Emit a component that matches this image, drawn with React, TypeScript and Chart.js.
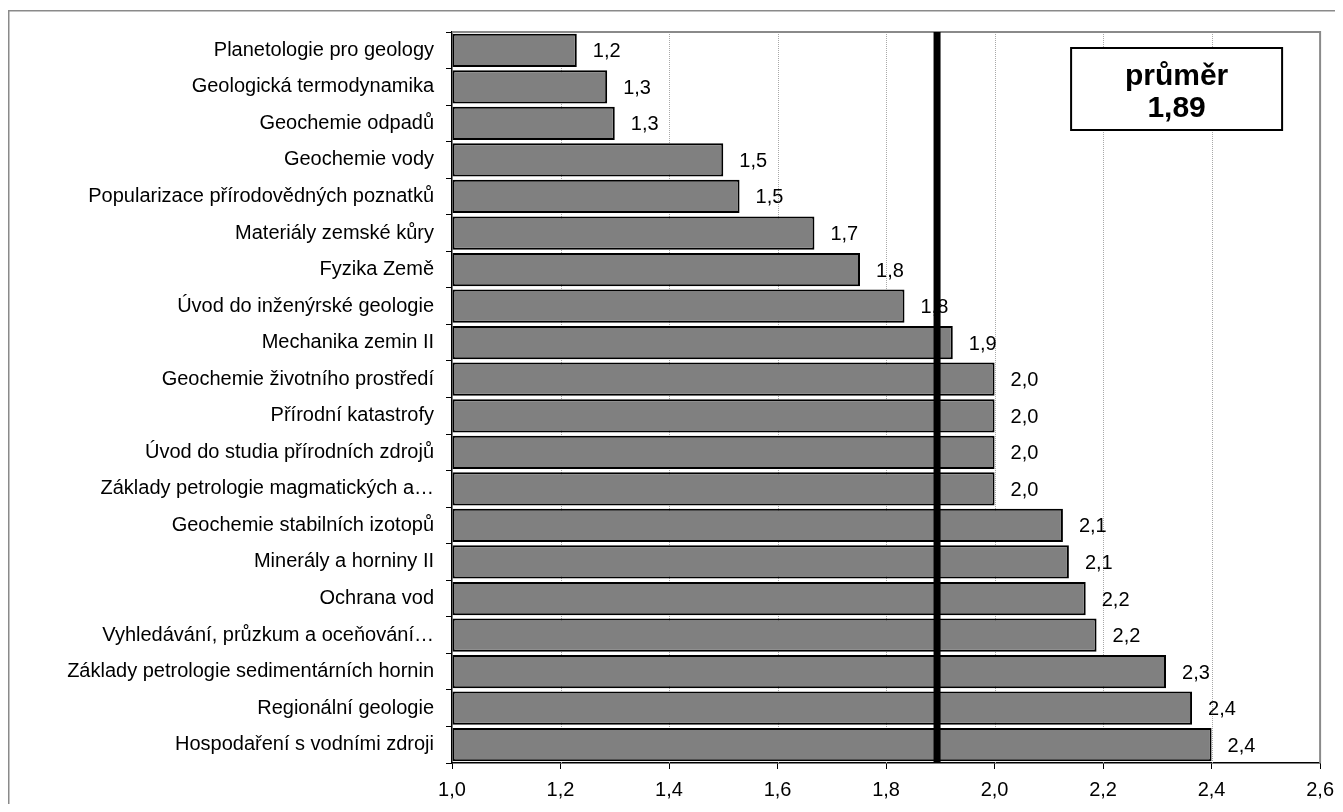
import React, { useEffect, useRef } from "react";
import { Chart, registerables } from "chart.js";

Chart.register(...registerables);

const categories: string[] = [
  "Planetologie pro geology",
  "Geologická termodynamika",
  "Geochemie odpadů",
  "Geochemie vody",
  "Popularizace přírodovědných poznatků",
  "Materiály zemské kůry",
  "Fyzika Země",
  "Úvod do inženýrské geologie",
  "Mechanika zemin II",
  "Geochemie životního prostředí",
  "Přírodní katastrofy",
  "Úvod do studia přírodních zdrojů",
  "Základy petrologie magmatických a…",
  "Geochemie stabilních izotopů",
  "Minerály a horniny II",
  "Ochrana vod",
  "Vyhledávání, průzkum a oceňování…",
  "Základy petrologie sedimentárních hornin",
  "Regionální geologie",
  "Hospodaření s vodními zdroji",
];

const values: number[] = [
  1.23, 1.286, 1.3, 1.5, 1.53, 1.668, 1.752, 1.834, 1.923, 2.0, 2.0, 2.0, 2.0,
  2.126, 2.137, 2.168, 2.188, 2.316, 2.364, 2.4,
];

const MEAN = 1.894;
const meanTitle = "průměr";
const meanLabel = "1,89";

const X_MIN = 1.0;
const X_MAX = 2.6;
const X_STEP = 0.2;

const FONT = "'Liberation Sans', Arial, sans-serif";
const fmt = (v: number) => v.toFixed(1).replace(".", ",");

const W = 1335;
const H = 796;

export default function App() {
  const ref = useRef<HTMLCanvasElement | null>(null);

  useEffect(() => {
    document.body.style.overflow = "hidden";
    const canvas = ref.current;
    if (!canvas) return;

    const decorPlugin = {
      id: "decor",
      beforeDraw(chart: any) {
        const ctx = chart.ctx;
        ctx.save();
        ctx.fillStyle = "#ffffff";
        ctx.fillRect(0, 0, chart.width, chart.height);
        // outer frame
        ctx.fillStyle = "#8a8a8a";
        ctx.fillRect(0, 2, chart.width, 1.5);
        ctx.fillRect(0, 2, 1.5, chart.height);
        ctx.restore();
      },
      beforeDatasetsDraw(chart: any) {
        const ctx = chart.ctx;
        const area = chart.chartArea;
        const xs = chart.scales.x;
        ctx.save();
        ctx.strokeStyle = "#a8a8a8";
        ctx.lineWidth = 1;
        ctx.setLineDash([1, 1]);
        for (let v = X_MIN + X_STEP; v < X_MAX - 1e-6; v += X_STEP) {
          const px = Math.round(xs.getPixelForValue(v)) + 0.5;
          ctx.beginPath();
          ctx.moveTo(px, area.top);
          ctx.lineTo(px, area.bottom);
          ctx.stroke();
        }
        ctx.setLineDash([]);
        ctx.strokeStyle = "#8a8a8a";
        ctx.lineWidth = 2;
        ctx.beginPath();
        ctx.moveTo(area.left, area.top);
        ctx.lineTo(area.right, area.top);
        ctx.lineTo(area.right, area.bottom);
        ctx.stroke();
        ctx.restore();
      },
      afterDatasetsDraw(chart: any) {
        const ctx = chart.ctx;
        const area = chart.chartArea;
        const xs = chart.scales.x;
        const meta = chart.getDatasetMeta(0);
        ctx.save();
        // value labels
        ctx.fillStyle = "#000";
        ctx.font = `20px ${FONT}`;
        ctx.textAlign = "left";
        ctx.textBaseline = "middle";
        meta.data.forEach((bar: any, i: number) => {
          ctx.fillText(fmt(values[i]), bar.x + 16, bar.y + 1.5);
        });
        // mean line
        const mx = xs.getPixelForValue(MEAN);
        ctx.strokeStyle = "#000";
        ctx.lineWidth = 7;
        ctx.beginPath();
        ctx.moveTo(mx, area.top);
        ctx.lineTo(mx, area.bottom);
        ctx.stroke();
        // annotation box
        const bx = area.right - 249;
        const by = area.top + 16;
        const bw = 211;
        const bh = 82;
        ctx.fillStyle = "#fff";
        ctx.fillRect(bx, by, bw, bh);
        ctx.strokeStyle = "#000";
        ctx.lineWidth = 2;
        ctx.strokeRect(bx, by, bw, bh);
        ctx.fillStyle = "#000";
        ctx.font = `bold 30px ${FONT}`;
        ctx.textAlign = "center";
        ctx.textBaseline = "alphabetic";
        ctx.fillText(meanTitle, bx + bw / 2, by + 37);
        ctx.fillText(meanLabel, bx + bw / 2, by + 69);
        ctx.restore();
      },
    };

    const chart = new Chart(canvas, {
      type: "bar",
      data: {
        labels: categories,
        datasets: [
          {
            data: values,
            base: X_MIN,
            backgroundColor: "#808080",
            borderColor: "#000000",
            borderWidth: 2,
            borderSkipped: false,
            barPercentage: 0.91,
            categoryPercentage: 1.0,
          } as any,
        ],
      },
      options: {
        indexAxis: "y",
        responsive: false,
        animation: false,
        devicePixelRatio: 1,
        layout: { padding: { left: 0, top: 21, right: 19, bottom: 0 } },
        plugins: {
          legend: { display: false },
          tooltip: { enabled: false },
        },
        scales: {
          x: {
            type: "linear",
            min: X_MIN,
            max: X_MAX,
            ticks: {
              stepSize: X_STEP,
              color: "#000",
              font: { family: FONT, size: 20 },
              padding: 9,
              callback: (v: any) => fmt(Number(v)),
            },
            grid: {
              drawOnChartArea: false,
              drawTicks: true,
              tickLength: 6,
              tickColor: "#000",
            },
            border: { display: true, color: "#000", width: 1.5 },
            afterFit: (scale: any) => {
              scale.height = 41;
            },
          },
          y: {
            type: "category",
            ticks: {
              autoSkip: false,
              color: "#000",
              font: { family: FONT, size: 20 },
              padding: 12,
            },
            grid: {
              offset: true,
              drawOnChartArea: false,
              drawTicks: true,
              tickLength: 6,
              tickColor: "#000",
            },
            border: { display: true, color: "#000", width: 1.5 },
            afterFit: (scale: any) => {
              scale.width = 444;
            },
          },
        },
      },
      plugins: [decorPlugin],
    } as any);

    return () => chart.destroy();
  }, []);

  return (
    <div style={{ width: W, height: H }}>
      <canvas ref={ref} width={W} height={H} style={{ display: "block", width: W, height: H }} />
    </div>
  );
}
